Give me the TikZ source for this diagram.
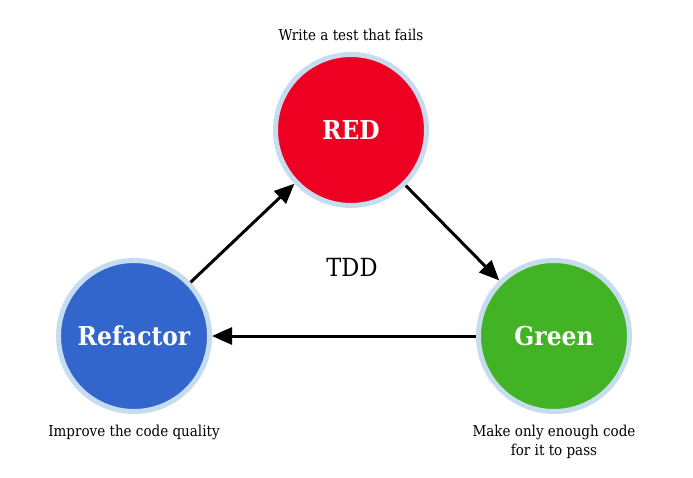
\documentclass[tikz,border=0pt]{standalone}
\usepackage{fontspec}
\setmainfont{DejaVu Serif}
\newfontfamily\slabfont[FakeStretch=0.9]{DejaVu Serif}
\usepackage{xcolor}
\usepackage{tikz}
\usetikzlibrary{arrows.meta,positioning}

\definecolor{tddred}{HTML}{EE0022}
\definecolor{tddgreen}{HTML}{42B324}
\definecolor{tddblue}{HTML}{3366CC}
\definecolor{ringblue}{HTML}{C6DCEF}

\begin{document}
\begin{tikzpicture}[
  x=1pt, y=-1pt,
  phase/.style={circle, draw=ringblue, line width=5pt, minimum size=151pt, inner sep=0pt,
    text=white, font=\slabfont\bfseries\fontsize{26}{30}\selectfont},
  note/.style={align=center, font=\slabfont\fontsize{15}{19}\selectfont},
  arr/.style={-{Triangle[length=20pt,width=17pt]}, line width=3pt}
]
\useasboundingbox (0,0) rectangle (693,477);

\node[phase, fill=tddred] (red) at (351,130) {RED};
\node[phase, fill=tddgreen] (green) at (554,336) {Green};
\node[phase, fill=tddblue] (refactor) at (134,336) {Refactor};

\node[note, above=8pt of red] (failnote) {Write a test that fails};
\node[note, below=8pt of refactor] (qualitynote) {Improve the code quality};
\node[note, below=8pt of green] (passnote) {Make only enough code\\for it to pass};
\node[font=\slabfont\fontsize{25}{30}\selectfont] (tdd) at (352,267) {TDD};

\draw[arr] (refactor) -- (red);
\draw[arr] (red) -- (green);
\draw[arr] (green) -- (refactor);
\end{tikzpicture}
\end{document}
